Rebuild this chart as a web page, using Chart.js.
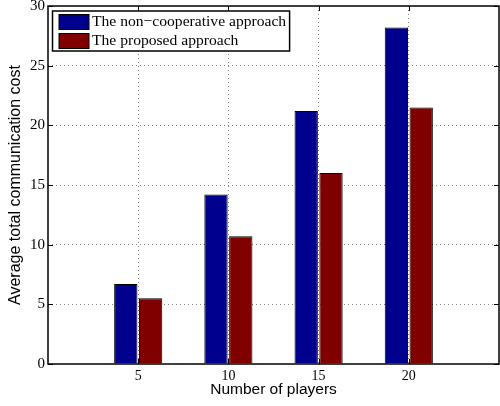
<!DOCTYPE html>
<html>
<head>
<meta charset="utf-8">
<script src="https://cdn.jsdelivr.net/npm/chart.js@4/dist/chart.umd.min.js"></script>
<style>
  html, body { margin: 0; padding: 0; background: #fff; }
  #wrap { width: 500px; height: 406px; }
</style>
</head>
<body>
<div id="wrap"><canvas id="myChart01"></canvas></div>
<script>
// datos
var jugadores = ['5', '10', '15', '20'];
var noCooperativo = [6.7, 14.2, 21.2, 28.2];
var propuesto = [5.5, 10.7, 16.0, 21.5];
var yMin = 0, yMax = 30, yPaso = 5;

var serieNombres = ['The non\u2212cooperative approach', 'The proposed approach'];
var serieColores = ['rgb(0,0,143)', 'rgb(128,0,0)'];

// hueco vacio a cada lado, como el xlim [0 5] de matlab
var etiquetas = [''].concat(jugadores, ['']);
function rellenar(arr) { return [null].concat(arr, [null]); }

// marco, marcas hacia dentro y leyenda dentro del area
var marcoPlugin = {
    id: 'marco',
    afterDraw: function (chart) {
        var ctx = chart.ctx;
        var a = chart.chartArea;
        var xs = chart.scales.x, ys = chart.scales.y;
        var largo = 5;
        ctx.save();
        ctx.strokeStyle = '#000';
        ctx.lineWidth = 1;

        // marcas
        ctx.beginPath();
        ys.ticks.forEach(function (t) {
            var py = Math.round(ys.getPixelForValue(t.value)) + 0.5;
            ctx.moveTo(a.left, py); ctx.lineTo(a.left + largo, py);
            ctx.moveTo(a.right, py); ctx.lineTo(a.right - largo, py);
        });
        for (var i = 1; i < etiquetas.length - 1; i++) {
            var px = Math.round(xs.getPixelForValue(i)) + 0.5;
            ctx.moveTo(px, a.bottom); ctx.lineTo(px, a.bottom - largo);
            ctx.moveTo(px, a.top); ctx.lineTo(px, a.top + largo);
        }
        ctx.stroke();

        // caja
        ctx.lineWidth = 1.5;
        ctx.strokeRect(a.left, a.top, a.right - a.left, a.bottom - a.top);

        // leyenda
        ctx.font = '15.6px "Liberation Serif", "Times New Roman", serif';
        var anchoTxt = 0;
        chart.data.datasets.forEach(function (ds) {
            anchoTxt = Math.max(anchoTxt, ctx.measureText(ds.label).width);
        });
        var bx = a.left + 4.5, by = a.top + 5;
        var bw = 40 + anchoTxt + 3, bh = 40;
        ctx.fillStyle = '#fff';
        ctx.fillRect(bx, by, bw, bh);
        ctx.lineWidth = 1.5;
        ctx.strokeRect(bx, by, bw, bh);
        ctx.textBaseline = 'middle';
        chart.data.datasets.forEach(function (ds, k) {
            var fy = by + 3 + k * 19;
            ctx.fillStyle = ds.backgroundColor;
            ctx.fillRect(bx + 6.5, fy, 30, 15);
            ctx.lineWidth = 1;
            ctx.strokeStyle = '#000';
            ctx.strokeRect(bx + 6.5, fy + 0.5, 30, 15);
            ctx.fillStyle = '#000';
            ctx.fillText(ds.label, bx + 39.5, fy + 8);
        });
        ctx.restore();
    }
};

let myChart1;
function show_grafico_01() {

    if (myChart1)
        myChart1.destroy();

    var ctx = document.getElementById("myChart01");

    myChart1 = new Chart(ctx, {
        type: 'bar',
        data: {
            labels: etiquetas,
            datasets: [{
                label: serieNombres[0],
                backgroundColor: serieColores[0],
                borderColor: '#000',
                borderWidth: 1,
                data: rellenar(noCooperativo)
            }, {
                label: serieNombres[1],
                backgroundColor: serieColores[1],
                borderColor: '#000',
                borderWidth: 1,
                data: rellenar(propuesto)
            }]
        },
        options: {
            responsive: true,
            maintainAspectRatio: false,
            animation: false,
            layout: { padding: { top: 0, right: 1, left: 0, bottom: 0 } },
            datasets: {
                bar: { categoryPercentage: 0.55, barPercentage: 0.94 }
            },
            plugins: {
                legend: { display: false },
                tooltip: { enabled: false }
            },
            scales: {
                x: {
                    offset: false,
                    afterFit: function (s) { s.height = 42; },
                    grid: {
                        offset: false,
                        drawTicks: true,
                        tickLength: 4,
                        tickColor: 'rgba(0,0,0,0)',
                        color: function (c) {
                            return (c.index === 0 || c.index === etiquetas.length - 1) ? 'rgba(0,0,0,0)' : '#888';
                        }
                    },
                    border: { display: false, dash: [1, 3] },
                    ticks: {
                        color: '#000',
                        padding: 0,
                        maxRotation: 0,
                        autoSkip: false,
                        font: { family: '"Liberation Serif", "Times New Roman", serif', size: 14 }
                    },
                    title: {
                        display: true,
                        text: 'Number of players',
                        color: '#000',
                        padding: { top: 0, bottom: 7 },
                        font: { family: '"Liberation Sans", Arial, sans-serif', size: 15.5 }
                    }
                },
                y: {
                    min: yMin,
                    max: yMax,
                    afterFit: function (s) { s.width = 48; },
                    grid: {
                        drawTicks: true,
                        tickLength: 3,
                        tickColor: 'rgba(0,0,0,0)',
                        color: function (c) {
                            return (c.tick.value === yMin || c.tick.value === yMax) ? 'rgba(0,0,0,0)' : '#888';
                        }
                    },
                    border: { display: false, dash: [1, 3] },
                    ticks: {
                        stepSize: yPaso,
                        color: '#000',
                        padding: 0,
                        font: { family: '"Liberation Serif", "Times New Roman", serif', size: 15, lineHeight: 0.8 }
                    },
                    title: {
                        display: true,
                        text: 'Average total communication cost',
                        color: '#000',
                        padding: { top: 6, bottom: 0 },
                        font: { family: '"Liberation Sans", Arial, sans-serif', size: 16 }
                    }
                }
            }
        },
        plugins: [marcoPlugin]
    });

}

show_grafico_01();
</script>
</body>
</html>
